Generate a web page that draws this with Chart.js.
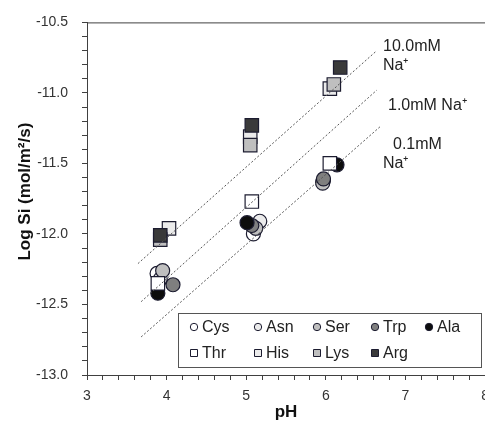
<!DOCTYPE html>
<html>
<head>
<meta charset="utf-8">
<script src="https://cdn.jsdelivr.net/npm/chart.js@4"></script>
<style>
  html, body { margin: 0; background: #fff; overflow: hidden; }
  /* a bit wider than the window so the x axis runs to the right edge, like the original */
  #wrap { width: 497px; height: 423px; position: relative; }
</style>
</head>
<body>
<div id="wrap"><canvas id="siChart"></canvas></div>
<script>
// amino acid series, [pH, log Si]
const cys = [[3.88, -12.28], [5.09, -12.00], [5.96, -11.63]];
const asn = [[3.92, -12.32], [5.17, -11.91], [5.97, -11.62]];
const ser = [[3.95, -12.26], [5.12, -11.96], [5.96, -11.64]];
const trp = [[4.08, -12.36], [5.07, -11.94], [5.97, -11.61]];
const ala = [[3.89, -12.42], [5.01, -11.92], [6.14, -11.51]];
const thr = [[3.89, -12.35], [5.07, -11.77], [6.05, -11.50]];
const his = [[4.03, -11.96], [5.05, -11.31], [6.05, -10.97]];
const lys = [[3.92, -12.04], [5.05, -11.37], [6.10, -10.94]];
const arg = [[3.92, -12.01], [5.07, -11.23], [6.18, -10.82]];

// Na+ concentration trend lines
const line10mM = [[3.64, -12.21], [6.64, -10.70]];
const line1mM = [[3.68, -12.48], [6.64, -10.98]];
const line01mM = [[3.68, -12.73], [6.68, -11.24]];

const xTicks = [3, 4, 5, 6, 7, 8];
const yTicks = [-13.0, -12.5, -12.0, -11.5, -11.0, -10.5];

const FONT = "'Liberation Sans', Arial, sans-serif";
const AXIS = '#404040';
const EDGE = '#1c1c30';

function pts(arr) { return arr.map(p => ({ x: p[0], y: p[1] })); }

function marker(label, data, color, style, order) {
    return {
        label: label,
        data: pts(data),
        backgroundColor: color,
        borderColor: EDGE,
        borderWidth: 1.2,
        pointStyle: style,
        pointRadius: style === 'rect' ? 9.5 : 7,
        pointHoverRadius: style === 'rect' ? 9.5 : 7,
        order: order
    };
}

function trend(data) {
    return {
        type: 'line',
        data: pts(data),
        borderColor: '#555',
        borderWidth: 1,
        borderDash: [2, 2],
        pointRadius: 0,
        showLine: true,
        fill: false,
        order: 0
    };
}

const datasets = [
    marker('Cys', cys, '#ffffff', 'circle', 9),
    marker('Asn', asn, '#ebebeb', 'circle', 8),
    marker('Ser', ser, '#bfbfbf', 'circle', 7),
    marker('Trp', trp, '#7f7f7f', 'circle', 6),
    marker('Ala', ala, '#0d0d0d', 'circle', 5),
    marker('Thr', thr, '#ffffff', 'rect', 2),
    marker('His', his, '#ebebeb', 'rect', 4),
    marker('Lys', lys, '#bfbfbf', 'rect', 3),
    marker('Arg', arg, '#3a3a3a', 'rect', 1),
    trend(line10mM),
    trend(line1mM),
    trend(line01mM)
];

// legend box drawn inside the plot, plus the top frame line and line labels
const extras = {
    id: 'extras',
    afterDraw(chart) {
        const ctx = chart.ctx;
        const area = chart.chartArea;
        ctx.save();
        ctx.strokeStyle = AXIS;
        ctx.lineWidth = 1;
        ctx.beginPath();
        ctx.moveTo(area.left, area.top + 0.5);
        ctx.lineTo(area.right, area.top + 0.5);
        ctx.stroke();

        // concentration labels
        ctx.fillStyle = '#222';
        ctx.font = '16px ' + FONT;
        ctx.textBaseline = 'middle';
        ctx.textAlign = 'left';
        ctx.fillText('10.0mM', 383, 47);
        ctx.fillText('Na\u207a', 383, 66);
        ctx.fillText('1.0mM Na\u207a', 388, 106);
        ctx.fillText('0.1mM', 393, 145);
        ctx.fillText('Na\u207a', 383, 164);

        // legend
        ctx.strokeStyle = '#555';
        ctx.fillStyle = '#fff';
        ctx.fillRect(178.5, 313.5, 303, 54);
        ctx.strokeRect(178.5, 313.5, 303, 54);
        const cols = [194, 258, 317, 375, 429];
        ctx.font = '16px ' + FONT;
        chart.data.datasets.forEach((ds, i) => {
            if (!ds.label) return;
            const row = i < 5 ? 0 : 1;
            const col = i < 5 ? i : i - 5;
            const cx = cols[col];
            const cy = row === 0 ? 327 : 353;
            ctx.fillStyle = ds.backgroundColor;
            ctx.strokeStyle = EDGE;
            ctx.lineWidth = 1;
            ctx.beginPath();
            if (ds.pointStyle === 'rect') {
                ctx.rect(cx - 3.5, cy - 3.5, 7, 7);
            } else {
                ctx.arc(cx, cy, 3.7, 0, Math.PI * 2);
            }
            ctx.fill();
            ctx.stroke();
            ctx.fillStyle = '#222';
            ctx.fillText(ds.label, cx + 8, cy + 1);
        });
        ctx.restore();
    }
};

new Chart(document.getElementById('siChart'), {
    type: 'scatter',
    data: { datasets: datasets },
    plugins: [extras],
    options: {
        responsive: true,
        maintainAspectRatio: false,
        animation: false,
        layout: { padding: { top: 20, right: 0, left: 0, bottom: 0 } },
        plugins: { legend: { display: false }, tooltip: { enabled: false } },
        scales: {
            x: {
                type: 'linear',
                min: xTicks[0],
                max: xTicks[xTicks.length - 1],
                grid: { drawOnChartArea: false, drawTicks: true, tickLength: 5, color: AXIS },
                border: { display: true, color: AXIS, width: 1 },
                ticks: {
                    stepSize: 0.2,
                    autoSkip: false,
                    maxRotation: 0,
                    padding: 8,
                    color: '#333',
                    font: { family: FONT, size: 14 },
                    callback: v => xTicks.some(t => Math.abs(t - v) < 1e-6) ? String(Math.round(v)) : ''
                },
                title: {
                    display: true,
                    text: 'pH',
                    color: '#111',
                    font: { family: FONT, size: 17, weight: 'bold' },
                    padding: { top: 0, bottom: 0 }
                },
                afterFit(scale) {
                    scale.height = 48;
                }
            },
            y: {
                min: yTicks[0],
                max: yTicks[yTicks.length - 1],
                grid: { drawOnChartArea: false, drawTicks: true, tickLength: 5, color: AXIS },
                border: { display: true, color: AXIS, width: 1 },
                ticks: {
                    stepSize: 0.1,
                    autoSkip: false,
                    padding: 14,
                    color: '#333',
                    font: { family: FONT, size: 14 },
                    callback: v => {
                        const t = yTicks.find(t => Math.abs(t - v) < 1e-6);
                        return t === undefined ? '' : t.toFixed(1);
                    }
                },
                title: {
                    display: true,
                    text: '\u00a0\u00a0\u00a0Log Si (mol/m\u00b2/s)',
                    color: '#111',
                    font: { family: FONT, size: 17, weight: 'bold' },
                    padding: { top: 15, bottom: 0 }
                },
                afterFit(scale) {
                    scale.width = 87;
                }
            }
        }
    }
});
</script>
</body>
</html>
